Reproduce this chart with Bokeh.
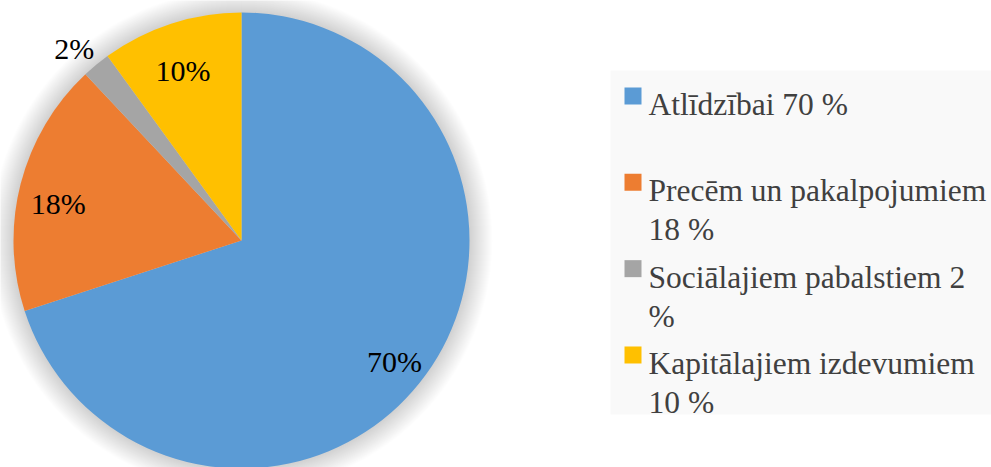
import numpy as np
from bokeh.plotting import figure
from bokeh.models import Range1d, ColumnDataSource
from bokeh.core.properties import value
from bokeh.embed import file_html
from bokeh.resources import INLINE

# ---- data ----
categories = ["Atlīdzībai", "Precēm un pakalpojumiem", "Sociālajiem pabalstiem", "Kapitālajiem izdevumiem"]
values = [70, 18, 2, 10]
colors = ["#5B9BD5", "#ED7D31", "#A5A5A5", "#FFC000"]
slice_labels = ["70%", "18%", "2%", "10%"]
legend_labels = [["Atlīdzībai 70 %"],
                 ["Precēm un pakalpojumiem", "18 %"],
                 ["Sociālajiem pabalstiem 2", "%"],
                 ["Kapitālajiem izdevumiem", "10 %"]]

W, H = 991, 467
def sx(x):  # reference x -> data x
    return x
def sy(y):  # reference y -> data y
    return H - y

p = figure(width=W, height=H, x_range=Range1d(0, W), y_range=Range1d(0, H),
           output_backend="svg", toolbar_location=None, min_border=0,
           x_axis_type=None, y_axis_type=None, outline_line_color=None,
           background_fill_color="white", border_fill_color="white")
p.grid.visible = False

cx, cy, R = sx(241), sy(240), 228

# soft shadow
for k in range(1, 24):
    p.circle(x=[cx], y=[cy], radius=R + k, fill_color="black", fill_alpha=0.006,
             line_color=None)

total = float(sum(values))
fr = np.array(values) / total
cum = np.concatenate([[0], np.cumsum(fr)])
start = np.pi / 2 - cum[1:] * 2 * np.pi
end = np.pi / 2 - cum[:-1] * 2 * np.pi
mid = (start + end) / 2

src = ColumnDataSource(dict(start=start, end=end, color=colors))
p.wedge(x=cx, y=cy, radius=R, start_angle="start", end_angle="end",
        direction="anticlock", fill_color="color", line_color=None, source=src)

# slice labels
lx, ly = [], []
for f, m in zip(fr, mid):
    rr = R * (1.15 if f < 0.05 else 0.83)
    lx.append(cx + rr * np.cos(m))
    ly.append(cy + rr * np.sin(m) - 10)
p.text(x=lx, y=ly, text=slice_labels, text_font=value("Liberation Serif"),
       text_font_size="30px", text_color="black", text_align="center",
       text_baseline="alphabetic")

# legend
p.quad(left=[sx(610)], right=[sx(991)], top=[sy(70)], bottom=[sy(414)],
       fill_color="#F9F9F9", line_color=None)
base0, step, lh = 104, 86.33, 39
tx, ty, tt = [], [], []
ql, qr, qt, qb = [], [], [], []
for i, lines in enumerate(legend_labels):
    b = base0 + step * i
    ql.append(sx(624)); qr.append(sx(641)); qt.append(sy(b - 17)); qb.append(sy(b))
    for j, line in enumerate(lines):
        tx.append(sx(648)); ty.append(sy(b + j * lh)); tt.append(line)
p.quad(left=ql, right=qr, top=qt, bottom=qb, fill_color=colors, line_color=None)
p.text(x=tx, y=ty, text=tt, text_font=value("Liberation Serif"),
       text_font_size="31.5px", text_color="#404040", text_align="left",
       text_baseline="alphabetic")

open("out.html", "w").write(file_html(p, INLINE))
